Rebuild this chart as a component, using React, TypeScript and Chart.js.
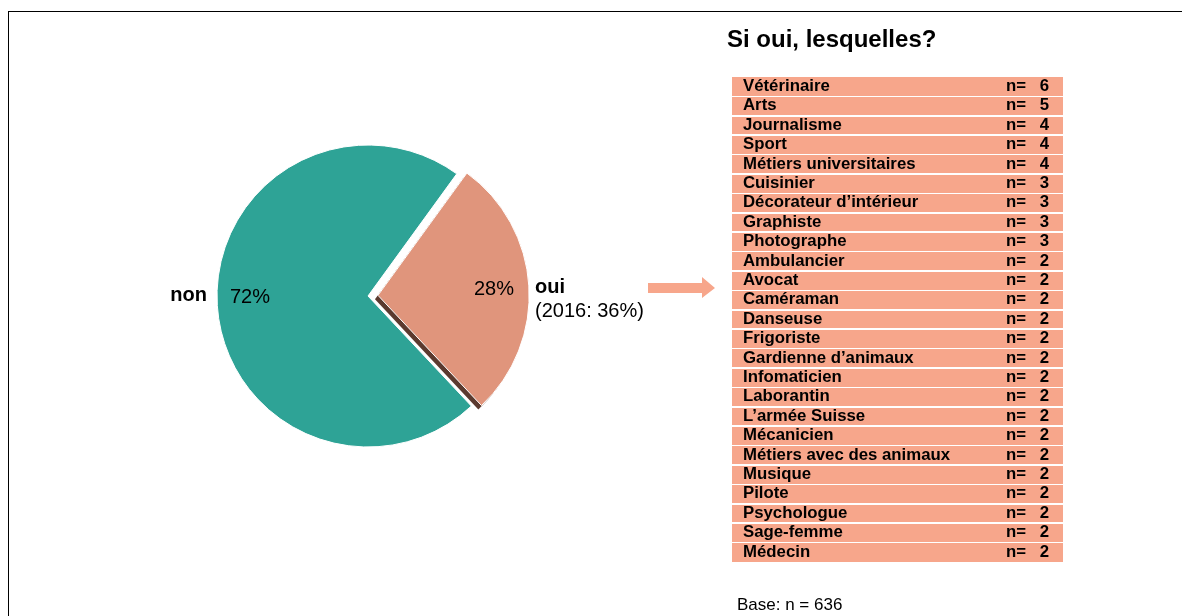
import React, { useEffect, useRef } from "react";
import { Chart, registerables } from "chart.js";

Chart.register(...registerables);

// ---- data ----
const pieLabels = ["oui", "non"];
const pieValues = [28, 72];
const pieColors = ["#e0957c", "#2ea396"];
const pieOffsets = [40, 0];
const comparisonNote = "(2016: 36%)";

const tableTitle = "Si oui, lesquelles?";
const professions = [
  "Vétérinaire",
  "Arts",
  "Journalisme",
  "Sport",
  "Métiers universitaires",
  "Cuisinier",
  "Décorateur d’intérieur",
  "Graphiste",
  "Photographe",
  "Ambulancier",
  "Avocat",
  "Caméraman",
  "Danseuse",
  "Frigoriste",
  "Gardienne d’animaux",
  "Infomaticien",
  "Laborantin",
  "L’armée Suisse",
  "Mécanicien",
  "Métiers avec des animaux",
  "Musique",
  "Pilote",
  "Psychologue",
  "Sage-femme",
  "Médecin",
];
const professionCounts = [6, 5, 4, 4, 4, 3, 3, 3, 3, 2, 2, 2, 2, 2, 2, 2, 2, 2, 2, 2, 2, 2, 2, 2, 2];
const countPrefix = "n=";
const baseNote = "Base: n = 636";

const FONT = "'Liberation Sans', Arial, Helvetica, sans-serif";
const TABLE_COLOR = "#f7a68b";

const W = 1182;
const H = 616;

const pieDecor = {
  id: "pieDecor",
  beforeDatasetsDraw(chart: any) {
    const arc = chart.getDatasetMeta(0).data[0];
    if (!arc) return;
    const p = arc.getProps(["x", "y", "startAngle", "endAngle", "outerRadius"], true);
    const off = (arc.options.offset || 0) / 4;
    const half = (p.startAngle + p.endAngle) / 2;
    const ctx = chart.ctx;
    ctx.save();
    ctx.translate(Math.cos(half) * off - 3, Math.sin(half) * off + 4);
    ctx.beginPath();
    ctx.moveTo(p.x, p.y);
    ctx.arc(p.x, p.y, p.outerRadius, p.startAngle, p.endAngle);
    ctx.closePath();
    ctx.fillStyle = "#5b3a2f";
    ctx.fill();
    ctx.restore();
  },
  afterDatasetsDraw(chart: any) {
    const meta = chart.getDatasetMeta(0);
    const ctx = chart.ctx;
    const oui = meta.data[0];
    const non = meta.data[1];
    const po = oui.getProps(["x", "y", "startAngle", "endAngle", "outerRadius"], true);
    const pn = non.getProps(["x", "y", "outerRadius"], true);
    const off = (oui.options.offset || 0) / 4;
    const half = (po.startAngle + po.endAngle) / 2;
    const ouiRight = po.x + Math.cos(half) * off + po.outerRadius;
    const ouiY = po.y + Math.sin(half) * off;
    ctx.save();
    ctx.fillStyle = "#000";
    ctx.textBaseline = "alphabetic";
    // non side
    ctx.font = `bold 20px ${FONT}`;
    ctx.textAlign = "right";
    ctx.fillText(pieLabels[1], pn.x - pn.outerRadius - 10, pn.y + 5);
    ctx.font = `20px ${FONT}`;
    ctx.textAlign = "left";
    ctx.fillText(`${pieValues[1]}%`, pn.x - pn.outerRadius + 13, pn.y + 7);
    // oui side
    ctx.textAlign = "right";
    ctx.fillText(`${pieValues[0]}%`, ouiRight - 15, ouiY);
    ctx.textAlign = "left";
    ctx.font = `bold 20px ${FONT}`;
    ctx.fillText(pieLabels[0], ouiRight + 6, ouiY - 2);
    ctx.font = `20px ${FONT}`;
    ctx.fillText(comparisonNote, ouiRight + 6, ouiY + 22);
    ctx.restore();
  },
};

function PieChart() {
  const ref = useRef<HTMLCanvasElement | null>(null);
  useEffect(() => {
    if (!ref.current) return;
    const cx = 368;
    const cy = 296;
    const half = 171.5;
    const chart = new Chart(ref.current, {
      type: "pie",
      data: {
        labels: pieLabels,
        datasets: [
          {
            data: pieValues,
            backgroundColor: pieColors,
            borderColor: ["#ffffff", "#ffffff"],
            borderWidth: 1,
            offset: pieOffsets,
            hoverOffset: 0,
          },
        ],
      },
      options: {
        responsive: false,
        maintainAspectRatio: false,
        animation: false,
        events: [],
        rotation: 36,
        layout: {
          padding: {
            left: cx - half,
            right: W - cx - half,
            top: cy - half,
            bottom: H - cy - half,
          },
        },
        plugins: {
          legend: { display: false },
          tooltip: { enabled: false },
        },
      },
      plugins: [pieDecor],
    });
    return () => chart.destroy();
  }, []);
  return (
    <canvas
      ref={ref}
      width={W}
      height={H}
      style={{ position: "absolute", left: 0, top: 0, width: W, height: H, display: "block" }}
    />
  );
}

export default function App() {
  const rowH = 19.4;
  const tableTop = 77;
  const tableLeft = 732;
  const tableWidth = 331;
  return (
    <div
      style={{
        position: "fixed",
        left: 0,
        top: 0,
        width: W,
        height: H,
        background: "#fff",
        overflow: "hidden",
        fontFamily: FONT,
        color: "#000",
      }}
    >
      <div
        style={{
          position: "absolute",
          left: 8,
          top: 11,
          width: W + 20,
          height: H + 20,
          borderTop: "1.5px solid #000",
          borderLeft: "1.5px solid #000",
        }}
      />
      <PieChart />
      <svg
        width={W}
        height={H}
        style={{ position: "absolute", left: 0, top: 0, pointerEvents: "none" }}
      >
        <polygon
          points="648,283 702,283 702,277 715,288 702,298 702,293 648,293"
          fill={TABLE_COLOR}
        />
      </svg>
      <div
        style={{
          position: "absolute",
          left: 727,
          top: 26.7,
          fontSize: 24,
          lineHeight: "24px",
          fontWeight: "bold",
          whiteSpace: "nowrap",
        }}
      >
        {tableTitle}
      </div>
      <div
        style={{
          position: "absolute",
          left: tableLeft,
          top: tableTop,
          width: tableWidth,
          height: rowH * professions.length,
          background: TABLE_COLOR,
        }}
      >
        {professions.map((name, i) => (
          <div
            key={name}
            style={{
              position: "absolute",
              left: 0,
              top: i * rowH,
              width: tableWidth,
              height: rowH,
              fontSize: 16.8,
              lineHeight: "18px",
              fontWeight: "bold",
              whiteSpace: "nowrap",
            }}
          >
            {i > 0 && (
              <div
                style={{
                  position: "absolute",
                  left: 0,
                  top: -0.75,
                  width: tableWidth,
                  height: 1.5,
                  background: "#fff",
                }}
              />
            )}
            <span style={{ position: "absolute", left: 11, top: 0 }}>{name}</span>
            <span style={{ position: "absolute", left: 274, top: 0 }}>{countPrefix}</span>
            <span style={{ position: "absolute", right: 14, top: 0 }}>{professionCounts[i]}</span>
          </div>
        ))}
      </div>
      <div
        style={{
          position: "absolute",
          left: 737,
          top: 595.6,
          fontSize: 17,
          lineHeight: "17px",
          whiteSpace: "nowrap",
        }}
      >
        {baseNote}
      </div>
    </div>
  );
}
